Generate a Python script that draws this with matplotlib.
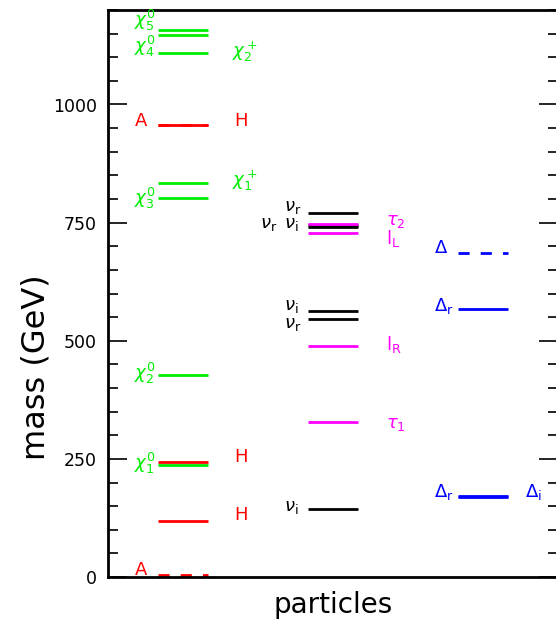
import matplotlib.pyplot as plt
from matplotlib.ticker import MultipleLocator

# masses in GeV
neutralino_names = [r'$\chi_1^0$', r'$\chi_2^0$', r'$\chi_3^0$', r'$\chi_4^0$', r'$\chi_5^0$']
neutralino_mass = [238, 427, 802, 1148, 1158]
chargino_names = [r'$\chi_1^+$', r'$\chi_2^+$']
chargino_mass = [834, 1110]
higgs_H_mass = [119, 243, 956]
higgs_A_mass = [4, 956]

snu_i_mass = [144, 564, 741]
snu_r_mass = [545, 745, 770]
slepton_names = [r'$\tau_1$', r'$\mathrm{l}_\mathrm{R}$', r'$\mathrm{l}_\mathrm{L}$', r'$\tau_2$']
slepton_mass = [327, 488, 728, 747]

delta_mass = [686]
delta_r_mass = [172, 568]
delta_i_mass = [170]

GREEN = '#00ee00'
RED = '#ff0000'
MAG = '#ff00ff'
BLUE = '#0000ff'
BLK = 'black'

NU_R = r'$\nu_\mathrm{r}$'
NU_I = r'$\nu_\mathrm{i}$'

plt.rcParams['font.family'] = 'DejaVu Sans'
plt.rcParams['mathtext.fontset'] = 'dejavusans'

fig = plt.figure(figsize=(5.56, 6.2), dpi=100)
ax = fig.add_axes([108 / 556, 1 - 577 / 620, 450 / 556, 567 / 620])

def level(col, m, color, dashed=False):
    ls = (0, (4, 4)) if dashed else '-'
    ax.plot([col + 1 / 3, col + 2 / 3], [m, m], color=color, lw=2, ls=ls,
            solid_capstyle='butt')

def label(x, y, s, color):
    ax.text(x, y, s, color=color, fontsize=13, ha='left', va='center')

# column 0: neutralinos, charginos, higgs
for m in neutralino_mass + chargino_mass:
    level(0, m, GREEN)
for m in higgs_H_mass:
    level(0, m, RED)
for m in higgs_A_mass:
    level(0, m, RED, dashed=True)

label(0.17, 1178, neutralino_names[4], GREEN)
label(0.17, 1122, neutralino_names[3], GREEN)
label(0.17, 802, neutralino_names[2], GREEN)
label(0.17, 430, neutralino_names[1], GREEN)
label(0.17, 241, neutralino_names[0], GREEN)
label(0.83, 1112, chargino_names[1], GREEN)
label(0.83, 839, chargino_names[0], GREEN)
label(0.18, 966, 'A', RED)
label(0.18, 14, 'A', RED)
label(0.84, 966, 'H', RED)
label(0.84, 255, 'H', RED)
label(0.84, 131, 'H', RED)

# column 1: sneutrinos, sleptons
for m in snu_i_mass + snu_r_mass:
    level(1, m, BLK)
for m in slepton_mass:
    level(1, m, MAG)

label(1.17, 784, NU_R, BLK)
label(1.01, 748, NU_R, BLK)
label(1.17, 748, NU_I, BLK)
label(1.17, 573, NU_I, BLK)
label(1.17, 535, NU_R, BLK)
label(1.17, 148, NU_I, BLK)
label(1.85, 753, slepton_names[3], MAG)
label(1.85, 716, slepton_names[2], MAG)
label(1.85, 492, slepton_names[1], MAG)
label(1.85, 324, slepton_names[0], MAG)

# column 2: triplet scalars
for m in delta_r_mass + delta_i_mass:
    level(2, m, BLUE)
for m in delta_mass:
    level(2, m, BLUE, dashed=True)

label(2.17, 696, r'$\Delta$', BLUE)
label(2.17, 574, r'$\Delta_\mathrm{r}$', BLUE)
label(2.17, 180, r'$\Delta_\mathrm{r}$', BLUE)
label(2.78, 180, r'$\Delta_\mathrm{i}$', BLUE)

ax.set_xlim(0, 3)
ax.set_ylim(0, 1200)
ax.set_xticks([])
ax.yaxis.set_major_locator(MultipleLocator(250))
ax.yaxis.set_minor_locator(MultipleLocator(50))
ax.tick_params(axis='y', which='both', direction='in', left=True, right=True,
               labelsize=12.5, pad=8, width=1.2, color='black')
ax.tick_params(axis='y', which='major', length=14)
ax.tick_params(axis='y', which='minor', length=7)
for sp in ax.spines.values():
    sp.set_linewidth(2)

ax.set_ylabel('mass (GeV)', fontsize=23)
ax.yaxis.set_label_coords(-0.125, 0.37)
ax.set_xlabel('particles', fontsize=20, labelpad=10)

fig.savefig('out.png', dpi=100)
